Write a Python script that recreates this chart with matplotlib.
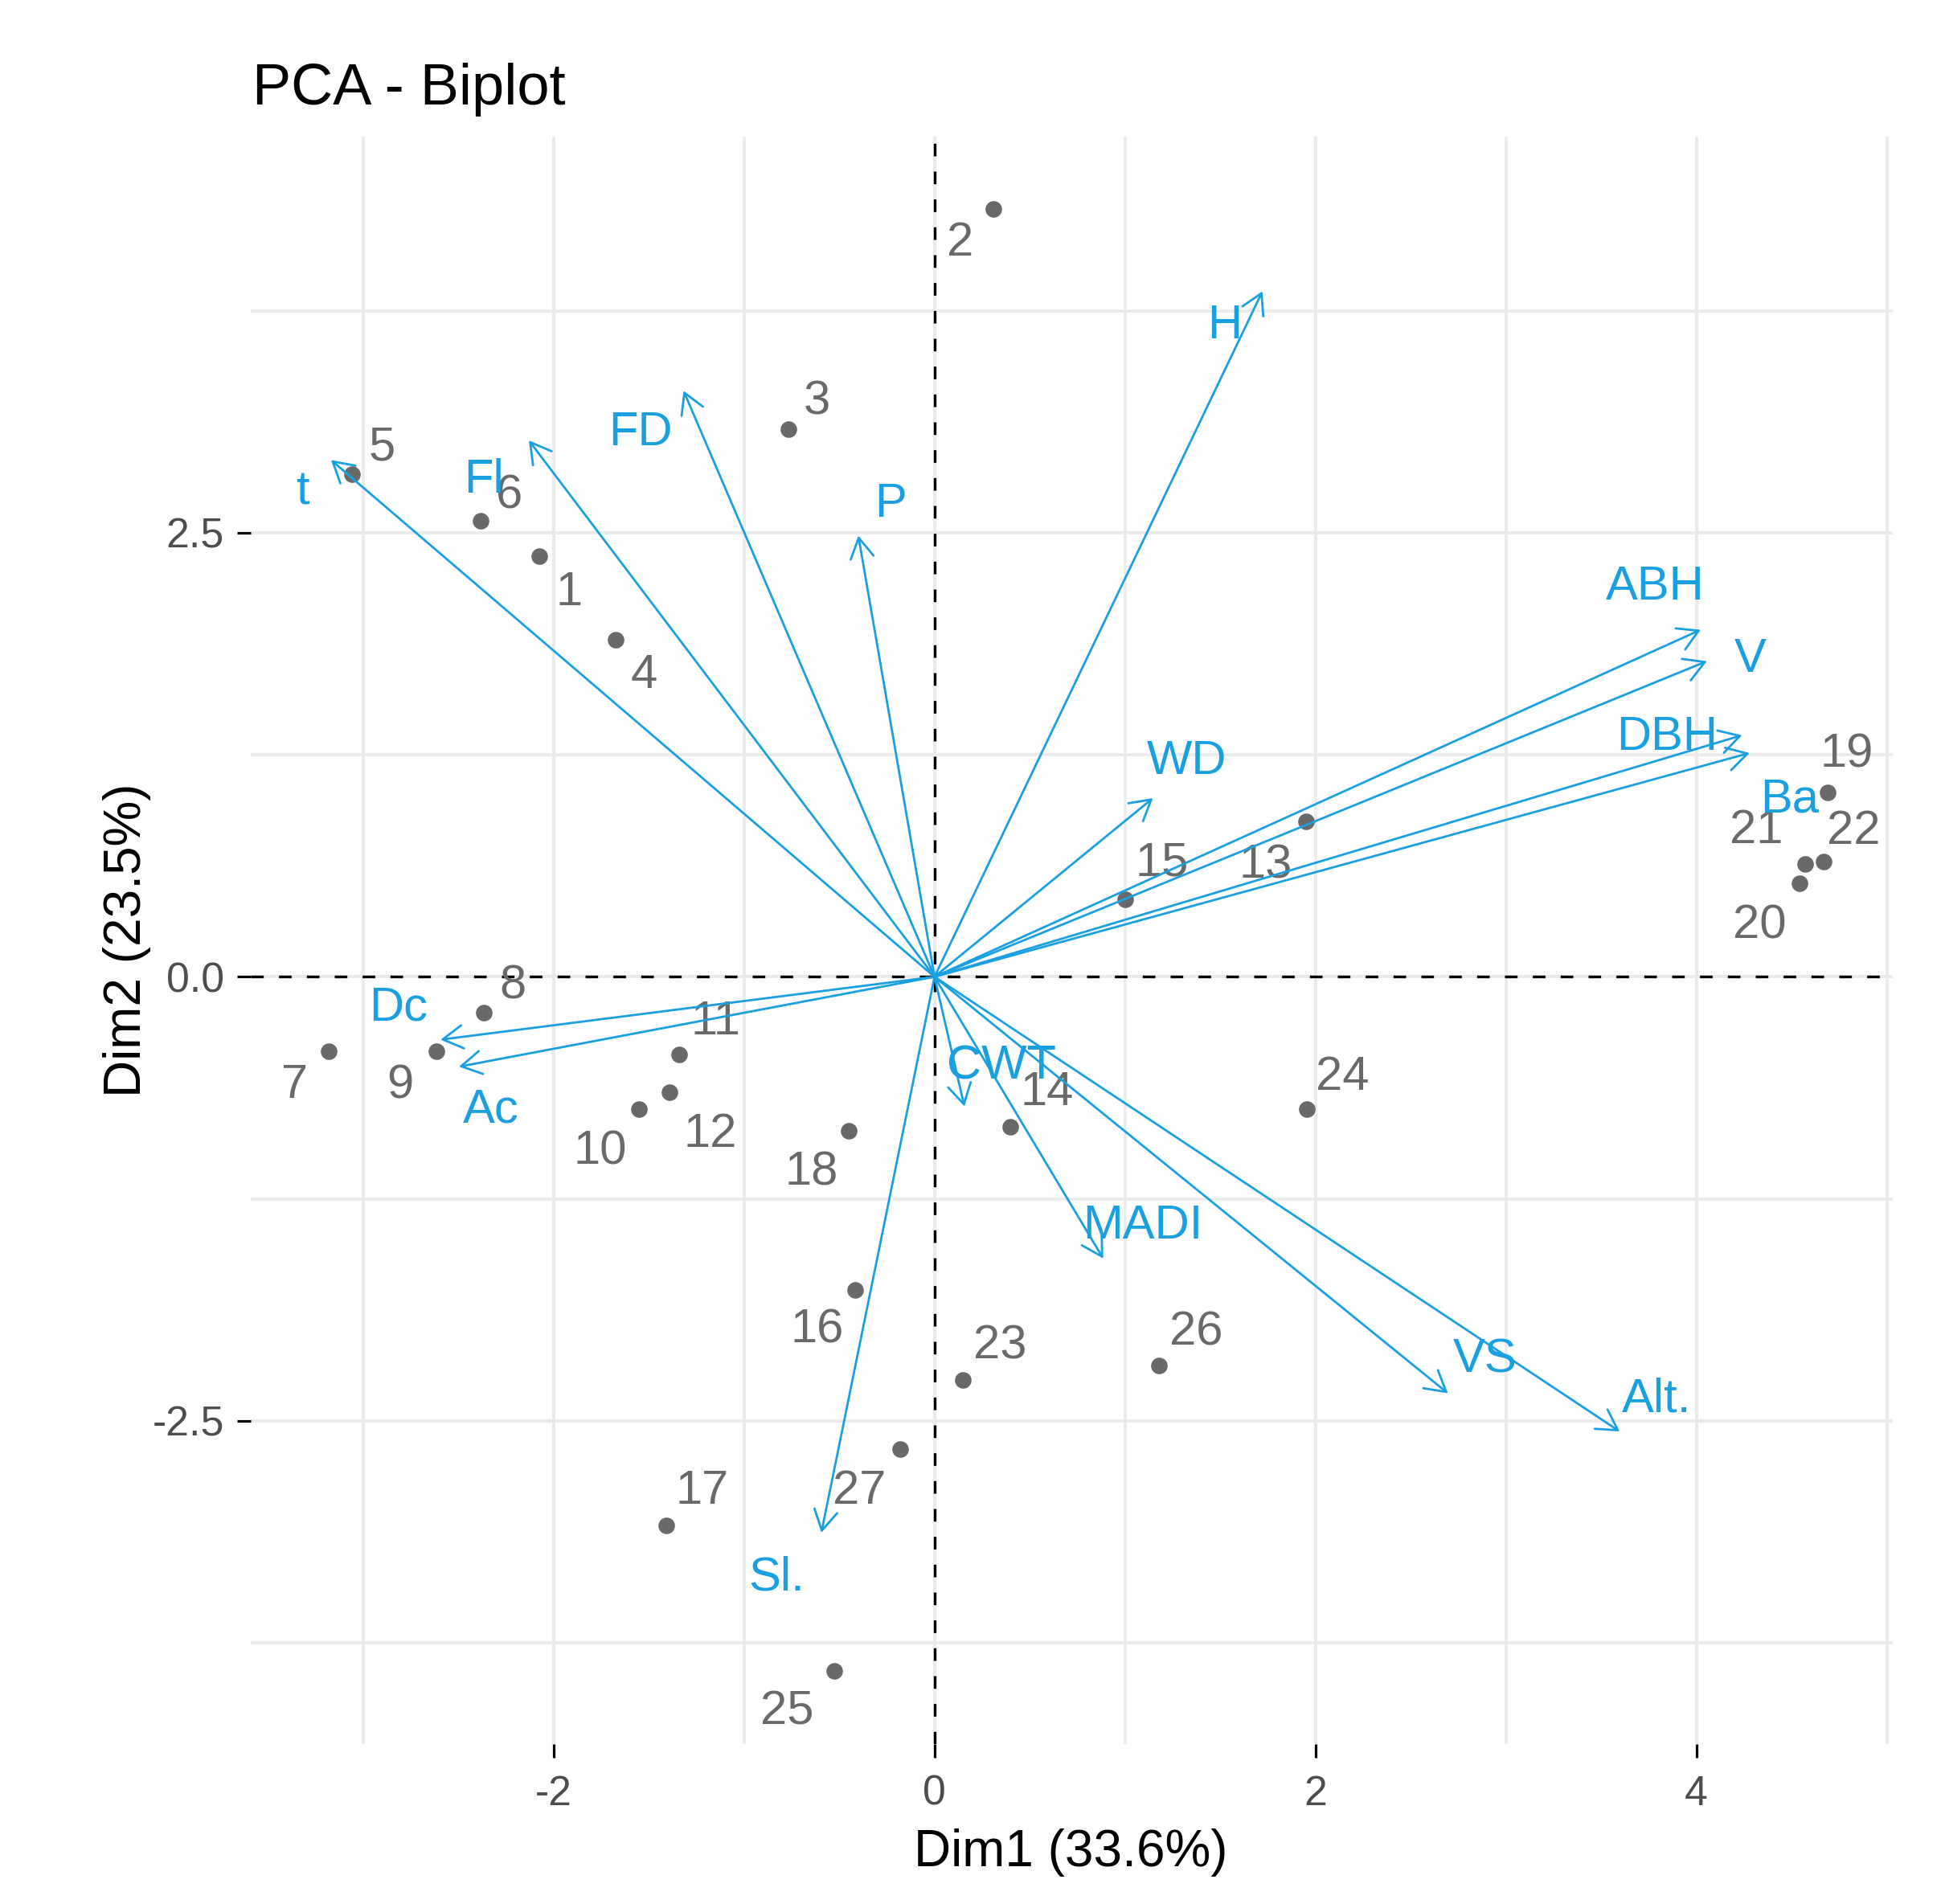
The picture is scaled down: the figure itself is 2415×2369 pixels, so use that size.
import matplotlib

matplotlib.use("Agg")
import matplotlib.pyplot as plt
from matplotlib.ticker import FixedLocator, FuncFormatter, MultipleLocator

# individuals 1..27 (Dim1, Dim2)
ind_names = [str(i) for i in range(1, 28)]
ind_dim1 = [-2.075, 0.31, -0.766, -1.675, -3.058, -2.383, -3.18, -2.365, -2.616,
            -1.552, -1.339, -1.39, 1.951, 0.397, 1.0, -0.416, -1.41, -0.452,
            4.688, 4.54, 4.57, 4.67, 0.15, 1.954, -0.526, 1.18, -0.18]
ind_dim2 = [2.369, 4.325, 3.084, 1.899, 2.83, 2.568, -0.417, -0.20, -0.417,
            -0.746, -0.437, -0.652, 0.877, -0.843, 0.438, -1.764, -3.09, -0.867,
            1.039, 0.527, 0.637, 0.647, -2.27, -0.746, -3.91, -2.19, -2.66]

# variables (arrow tips)
var_names = ["t", "Fl", "FD", "P", "H", "WD", "ABH", "V", "DBH", "Ba",
             "Dc", "Ac", "Sl.", "CWT", "MADI", "VS", "Alt."]
var_dim1 = [-3.169, -2.13, -1.318, -0.40, 1.722, 1.147, 4.023, 4.056, 4.24, 4.28,
            -2.594, -2.497, -0.594, 0.157, 0.886, 2.696, 3.598]
var_dim2 = [2.91, 3.02, 3.30, 2.484, 3.86, 1.006, 1.954, 1.777, 1.36, 1.26,
            -0.354, -0.506, -3.13, -0.73, -1.586, -2.345, -2.56]

dim1_pct = 33.6
dim2_pct = 23.5

x_ticks = [-2, 0, 2, 4]
y_ticks = [-2.5, 0.0, 2.5]

# text offsets in points (repel-like placement)
ind_offsets = [(13.3, -16.6), (-15.0, -15.5), (12.8, 12.2), (12.8, -16.1), (13.3, 11.7),
               (12.8, 11.1), (-15.5, -15.5), (12.8, 11.7), (-16.1, -15.5), (-17.2, -18.9),
               (16.1, 14.4), (18.3, -18.9), (-18.3, -20.0), (16.6, 15.0), (16.6, 16.1),
               (-17.2, -17.8), (16.1, 15.5), (-16.6, -18.9), (8.7, 17.0), (-17.7, -19.0),
               (-21.6, 14.9), (13.3, 13.5), (16.6, 15.0), (16.1, 14.4), (-21.1, -18.3),
               (16.6, 15.0), (-18.3, -18.9)]
var_offsets = [(-12.8, -14.4), (-20.0, -17.8), (-19.4, -18.9), (14.4, 13.9), (-17.0, -15.6),
               (15.2, 16.5), (-20.3, 19.1), (19.3, 0.8), (-33.5, -1.0), (17.8, -21.0),
               (-18.9, 14.4), (14.4, -19.4), (-20.0, -20.0), (16.6, 17.8), (17.8, 14.4),
               (16.6, 15.0), (16.6, 14.4)]

IND_COLOR = "#696969"
VAR_COLOR = "#1A9FE0"
GRID_COLOR = "#EBEBEB"
FONTS = ["Liberation Sans", "DejaVu Sans"]

plt.rcParams["font.family"] = FONTS
plt.rcParams["axes.unicode_minus"] = False


def set_grid(ax):
    ax.xaxis.set_major_locator(FixedLocator(x_ticks))
    ax.yaxis.set_major_locator(FixedLocator(y_ticks))
    ax.xaxis.set_minor_locator(MultipleLocator(2, offset=1))
    ax.yaxis.set_minor_locator(MultipleLocator(2.5, offset=1.25))
    ax.grid(which="major", color=GRID_COLOR, linewidth=1.45, zorder=0)
    ax.grid(which="minor", color=GRID_COLOR, linewidth=1.3, zorder=0)
    ax.set_axisbelow(True)


def draw_individuals(ax):
    ax.scatter(ind_dim1, ind_dim2, s=55, color=IND_COLOR, linewidths=0, zorder=3)
    for name, x, y, off in zip(ind_names, ind_dim1, ind_dim2, ind_offsets):
        ax.annotate(name, xy=(x, y), xytext=off, textcoords="offset points",
                    ha="center", va="center", fontsize=21.5, color=IND_COLOR, zorder=4)


def draw_variables(ax):
    for name, x, y, off in zip(var_names, var_dim1, var_dim2, var_offsets):
        ax.annotate("", xy=(x, y), xytext=(0, 0),
                    arrowprops=dict(arrowstyle="->,head_length=0.9,head_width=0.52",
                                    color=VAR_COLOR, lw=1.0, shrinkA=0, shrinkB=0,
                                    mutation_scale=10),
                    zorder=5)
        ax.annotate(name, xy=(x, y), xytext=off, textcoords="offset points",
                    ha="center", va="center", fontsize=21.5, color=VAR_COLOR, zorder=6)


fig = plt.figure(figsize=(12.075, 11.845), dpi=200)
ax = fig.add_axes([0.1292, 0.0840, 0.8458, 0.8442])
for side in ax.spines.values():
    side.set_visible(False)

ax.set_xlim(-3.59, 5.03)
ax.set_ylim(-4.32, 4.73)
set_grid(ax)

ax.axhline(0, color="black", lw=1.2, linestyle=(0, (4.7, 5.7)), zorder=2)
ax.axvline(0, color="black", lw=1.2, linestyle=(0, (4.7, 5.7)), zorder=2)

draw_individuals(ax)
draw_variables(ax)

ax.xaxis.set_major_formatter(FuncFormatter(lambda v, p: "%d" % v))
ax.yaxis.set_major_formatter(FuncFormatter(lambda v, p: "%.1f" % v))
ax.tick_params(which="major", length=6.1, width=1.15, color="black",
               labelsize=18.7, labelcolor="#4D4D4D")
ax.tick_params(axis="x", pad=7.5)
ax.tick_params(axis="y", pad=5.8)
ax.tick_params(which="minor", length=0)

fig.text(0.5516, 0.0198, "Dim1 (%.1f%%)" % dim1_pct, ha="center", va="baseline",
         fontsize=23)
fig.text(174.5 / 2415, 0.5063, "Dim2 (%.1f%%)" % dim2_pct, ha="center", va="baseline",
         rotation=90, rotation_mode="anchor", fontsize=23)
fig.text(314 / 2415, 1 - 130 / 2369, "PCA - Biplot", ha="left", va="baseline",
         fontsize=26)

fig.savefig("out.png", dpi=200, facecolor="white")
